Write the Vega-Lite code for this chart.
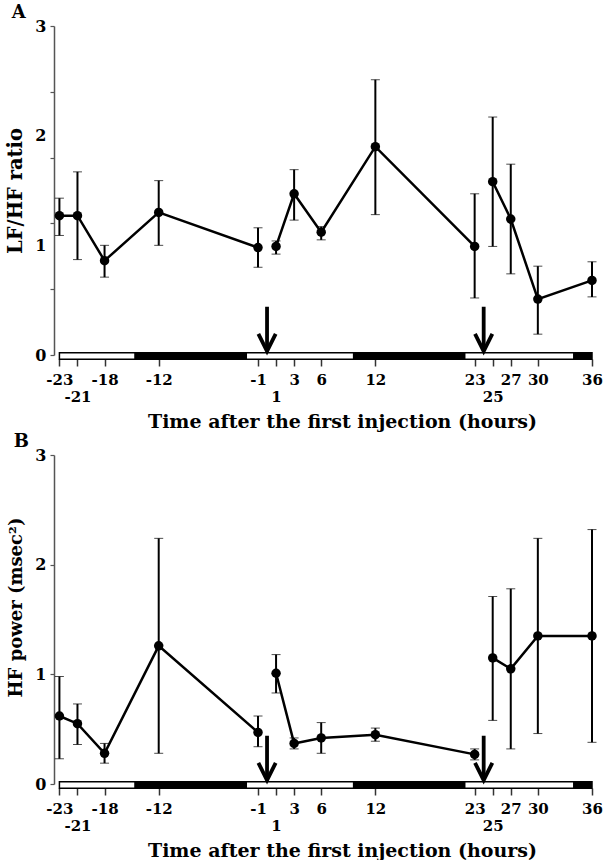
{
  "$schema": "https://vega.github.io/schema/vega-lite/v6.json",
  "background": "white",
  "padding": {"left": 5, "top": 4, "right": 4, "bottom": 0},
  "spacing": 2,
  "config": {
    "font": "DejaVu Serif",
    "view": {"stroke": null},
    "axis": {"labelFont": "DejaVu Serif", "labelFontWeight": "bold", "labelColor": "black", "titleFont": "DejaVu Serif", "titleFontWeight": "bold", "titleColor": "black", "grid": false, "labelFontSize": 15, "titleFontSize": 18},
    "title": {"font": "DejaVu Serif", "fontWeight": "bold", "fontSize": 18, "color": "black"}
  },
  "datasets": {
    "lfhf": [
      {"hour": -23, "mean": 1.27, "lo": 1.09, "hi": 1.43, "seg": "pre"},
      {"hour": -21, "mean": 1.27, "lo": 0.87, "hi": 1.67, "seg": "pre"},
      {"hour": -18, "mean": 0.86, "lo": 0.71, "hi": 1.0, "seg": "pre"},
      {"hour": -12, "mean": 1.3, "lo": 1.0, "hi": 1.59, "seg": "pre"},
      {"hour": -1, "mean": 0.98, "lo": 0.8, "hi": 1.16, "seg": "pre"},
      {"hour": 1, "mean": 0.99, "lo": 0.92, "hi": 1.04, "seg": "post1"},
      {"hour": 3, "mean": 1.47, "lo": 1.23, "hi": 1.69, "seg": "post1"},
      {"hour": 6, "mean": 1.12, "lo": 1.05, "hi": 1.17, "seg": "post1"},
      {"hour": 12, "mean": 1.9, "lo": 1.28, "hi": 2.51, "seg": "post1"},
      {"hour": 23, "mean": 0.99, "lo": 0.52, "hi": 1.47, "seg": "post1"},
      {"hour": 25, "mean": 1.58, "lo": 0.99, "hi": 2.17, "seg": "post2"},
      {"hour": 27, "mean": 1.24, "lo": 0.74, "hi": 1.74, "seg": "post2"},
      {"hour": 30, "mean": 0.51, "lo": 0.19, "hi": 0.81, "seg": "post2"},
      {"hour": 36, "mean": 0.68, "lo": 0.53, "hi": 0.85, "seg": "post2"}
    ],
    "hf": [
      {"hour": -23, "mean": 0.62, "lo": 0.23, "hi": 0.98, "seg": "pre"},
      {"hour": -21, "mean": 0.55, "lo": 0.36, "hi": 0.73, "seg": "pre"},
      {"hour": -18, "mean": 0.28, "lo": 0.19, "hi": 0.37, "seg": "pre"},
      {"hour": -12, "mean": 1.26, "lo": 0.28, "hi": 2.24, "seg": "pre"},
      {"hour": -1, "mean": 0.47, "lo": 0.34, "hi": 0.62, "seg": "pre"},
      {"hour": 1, "mean": 1.01, "lo": 0.83, "hi": 1.18, "seg": "post1"},
      {"hour": 3, "mean": 0.37, "lo": 0.32, "hi": 0.42, "seg": "post1"},
      {"hour": 6, "mean": 0.42, "lo": 0.28, "hi": 0.56, "seg": "post1"},
      {"hour": 12, "mean": 0.45, "lo": 0.39, "hi": 0.51, "seg": "post1"},
      {"hour": 23, "mean": 0.27, "lo": 0.22, "hi": 0.32, "seg": "post1"},
      {"hour": 25, "mean": 1.15, "lo": 0.58, "hi": 1.71, "seg": "post2"},
      {"hour": 27, "mean": 1.05, "lo": 0.32, "hi": 1.78, "seg": "post2"},
      {"hour": 30, "mean": 1.35, "lo": 0.46, "hi": 2.24, "seg": "post2"},
      {"hour": 36, "mean": 1.35, "lo": 0.38, "hi": 2.32, "seg": "post2"}
    ],
    "light": [
      {"start": -23, "end": -14.6, "phase": "light"},
      {"start": -14.6, "end": -2.3, "phase": "dark"},
      {"start": -2.3, "end": 9.6, "phase": "light"},
      {"start": 9.6, "end": 21.9, "phase": "dark"},
      {"start": 21.9, "end": 34, "phase": "light"},
      {"start": 34, "end": 36, "phase": "dark"}
    ],
    "arrows": [{"hour": 0}, {"hour": 24}]
  },
  "vconcat": [
    {
      "width": 538,
      "height": 329,
      "title": {"text": "A", "anchor": "start", "frame": "bounds", "offset": -4, "dx": 6},
      "layer": [
        {
          "data": {"name": "light"},
          "mark": {"type": "rect", "stroke": "black", "strokeWidth": 1.5},
          "encoding": {
            "x": {"field": "start", "type": "quantitative", "scale": {"domain": [-23.6, 36], "nice": false, "zero": false},
              "axis": {"values": [-23, -21, -18, -12, -1, 1, 3, 6, 12, 23, 25, 27, 30, 36],
                "labelExpr": "indexof([-21, 1, 25], datum.value) >= 0 ? ['', '' + datum.value] : '' + datum.value",
                "domain": false, "tickColor": "#333", "tickSize": 7, "tickWidth": 1.5, "offset": 4,
                "labelOverlap": false, "labelFlush": false, "labelBound": false, "labelPadding": 6, "labelLineHeight": 17,
                "title": "Time after the first injection (hours)", "titlePadding": 8, "titleFontSize": 19, "titleX": 288}},
            "x2": {"field": "end"},
            "y": {"datum": 0.021, "type": "quantitative", "scale": {"domain": [0, 3], "nice": false},
              "axis": {"values": [0, 0.6, 1, 1.2, 1.8, 2, 2.4, 3],
                "labelExpr": "indexof([0, 1, 2, 3], datum.value) >= 0 ? '' + datum.value : ''",
                "tickOpacity": {"condition": {"test": "datum.value == 1 || datum.value == 2", "value": 0}, "value": 1},
                "domainColor": "#555", "domainWidth": 1.5, "tickColor": "#555", "tickSize": 4, "tickWidth": 1.2,
                "labelPadding": 4, "labelOverlap": false, "labelFontSize": 16,
                "title": "LF/HF ratio", "titlePadding": 9, "titleFontSize": 19.5}},
            "y2": {"datum": -0.039},
            "fill": {"field": "phase", "type": "nominal", "scale": {"domain": ["light", "dark"], "range": ["white", "black"]}, "legend": null}
          }
        },
        {
          "data": {"name": "lfhf"},
          "mark": {"type": "errorbar", "ticks": {"size": 9, "strokeWidth": 2, "color": "black"}, "rule": {"strokeWidth": 2, "color": "black"}},
          "encoding": {
            "x": {"field": "hour", "type": "quantitative", "title": "Time after the first injection (hours)"},
            "y": {"field": "lo", "type": "quantitative", "title": "LF/HF ratio"},
            "y2": {"field": "hi"}
          }
        },
        {
          "data": {"name": "lfhf"},
          "mark": {"type": "line", "color": "black", "strokeWidth": 2.5},
          "encoding": {
            "x": {"field": "hour", "type": "quantitative", "title": "Time after the first injection (hours)"},
            "y": {"field": "mean", "type": "quantitative", "title": "LF/HF ratio"},
            "detail": {"field": "seg", "type": "nominal"}
          }
        },
        {
          "data": {"name": "lfhf"},
          "mark": {"type": "point", "filled": true, "color": "black", "size": 90, "opacity": 1},
          "encoding": {
            "x": {"field": "hour", "type": "quantitative", "title": "Time after the first injection (hours)"},
            "y": {"field": "mean", "type": "quantitative", "title": "LF/HF ratio"}
          }
        },
        {
          "data": {"name": "arrows"},
          "mark": {"type": "rule", "color": "black", "strokeWidth": 3.8},
          "encoding": {
            "x": {"field": "hour", "type": "quantitative", "title": "Time after the first injection (hours)"},
            "y": {"datum": 0.44, "type": "quantitative", "title": "LF/HF ratio"},
            "y2": {"datum": 0.04}
          }
        },
        {
          "data": {"name": "arrows"},
          "mark": {"type": "point", "shape": "M-1,-2L0,0L1,-2", "filled": false, "color": "black", "strokeWidth": 3.8, "size": 300, "opacity": 1, "strokeJoin": "miter"},
          "encoding": {
            "x": {"field": "hour", "type": "quantitative", "title": "Time after the first injection (hours)"},
            "y": {"datum": 0.035, "type": "quantitative", "title": "LF/HF ratio"}
          }
        }
      ]
    },
    {
      "width": 538,
      "height": 329,
      "title": {"text": "B", "anchor": "start", "frame": "bounds", "offset": -4, "dx": 6},
      "layer": [
        {
          "data": {"name": "light"},
          "mark": {"type": "rect", "stroke": "black", "strokeWidth": 1.5},
          "encoding": {
            "x": {"field": "start", "type": "quantitative", "scale": {"domain": [-23.6, 36], "nice": false, "zero": false},
              "axis": {"values": [-23, -21, -18, -12, -1, 1, 3, 6, 12, 23, 25, 27, 30, 36],
                "labelExpr": "indexof([-21, 1, 25], datum.value) >= 0 ? ['', '' + datum.value] : '' + datum.value",
                "domain": false, "tickColor": "#333", "tickSize": 7, "tickWidth": 1.5, "offset": 4,
                "labelOverlap": false, "labelFlush": false, "labelBound": false, "labelPadding": 6, "labelLineHeight": 17,
                "title": "Time after the first injection (hours)", "titlePadding": 8, "titleFontSize": 19, "titleX": 288}},
            "x2": {"field": "end"},
            "y": {"datum": 0.021, "type": "quantitative", "scale": {"domain": [0, 3], "nice": false},
              "axis": {"values": [0, 1, 2, 3], "format": "d",
                "domainColor": "#555", "domainWidth": 1.5, "tickColor": "#555", "tickSize": 4, "tickWidth": 1.2,
                "labelPadding": 4, "labelOverlap": false, "labelFontSize": 16,
                "title": "HF power (msec²)", "titlePadding": 9, "titleY": 152}},
            "y2": {"datum": -0.039},
            "fill": {"field": "phase", "type": "nominal", "scale": {"domain": ["light", "dark"], "range": ["white", "black"]}, "legend": null}
          }
        },
        {
          "data": {"name": "hf"},
          "mark": {"type": "errorbar", "ticks": {"size": 9, "strokeWidth": 2, "color": "black"}, "rule": {"strokeWidth": 2, "color": "black"}},
          "encoding": {
            "x": {"field": "hour", "type": "quantitative", "title": "Time after the first injection (hours)"},
            "y": {"field": "lo", "type": "quantitative", "title": "HF power (msec²)"},
            "y2": {"field": "hi"}
          }
        },
        {
          "data": {"name": "hf"},
          "mark": {"type": "line", "color": "black", "strokeWidth": 2.5},
          "encoding": {
            "x": {"field": "hour", "type": "quantitative", "title": "Time after the first injection (hours)"},
            "y": {"field": "mean", "type": "quantitative", "title": "HF power (msec²)"},
            "detail": {"field": "seg", "type": "nominal"}
          }
        },
        {
          "data": {"name": "hf"},
          "mark": {"type": "point", "filled": true, "color": "black", "size": 90, "opacity": 1},
          "encoding": {
            "x": {"field": "hour", "type": "quantitative", "title": "Time after the first injection (hours)"},
            "y": {"field": "mean", "type": "quantitative", "title": "HF power (msec²)"}
          }
        },
        {
          "data": {"name": "arrows"},
          "mark": {"type": "rule", "color": "black", "strokeWidth": 3.8},
          "encoding": {
            "x": {"field": "hour", "type": "quantitative", "title": "Time after the first injection (hours)"},
            "y": {"datum": 0.44, "type": "quantitative", "title": "HF power (msec²)"},
            "y2": {"datum": 0.04}
          }
        },
        {
          "data": {"name": "arrows"},
          "mark": {"type": "point", "shape": "M-1,-2L0,0L1,-2", "filled": false, "color": "black", "strokeWidth": 3.8, "size": 300, "opacity": 1, "strokeJoin": "miter"},
          "encoding": {
            "x": {"field": "hour", "type": "quantitative", "title": "Time after the first injection (hours)"},
            "y": {"datum": 0.035, "type": "quantitative", "title": "HF power (msec²)"}
          }
        }
      ]
    }
  ]
}
